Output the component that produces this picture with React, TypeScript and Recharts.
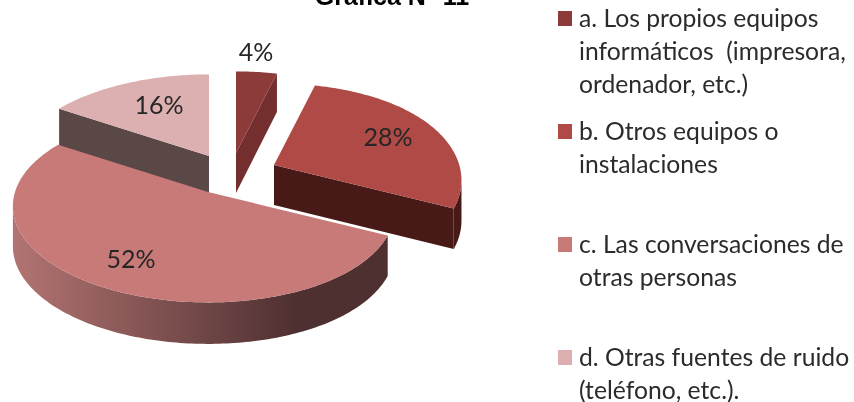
import React from "react";
import { PieChart, Pie, Legend } from "recharts";

const categories = ["a", "b", "c", "d"];
const values = [4, 28, 52, 16];
const legendLines = [
  ["a. Los propios equipos", "informáticos  (impresora,", "ordenador, etc.)"],
  ["b. Otros equipos o", "instalaciones"],
  ["c. Las conversaciones de", "otras personas"],
  ["d. Otras fuentes de ruido", "(teléfono, etc.)."],
];
const topColors = ["#8c3a3a", "#b04a47", "#c77a78", "#dcb0b0"];
const wallColors = ["#752e2e", "#471a17", "url(#wallC)", "#5a4846"];
const title = "Gráfica N° 11";

// d is painted first so that the big slice overlaps its wall; the legend keeps a, b, c, d
const drawOrder = [3, 0, 1, 2];
const rows = drawOrder.map((i) => ({ id: i, name: categories[i], value: values[i], color: topColors[i], wall: wallColors[i] }));
const total = values.reduce((s, v) => s + v, 0);
const firstAngle = 90 - (360 * (total - values[3])) / total;

const CX = 232;
const CY = 168;
const R = 193;
const RY = 96;
const K = 0.15;
const DEPTH = 40;
const SLICE_SHIFT = [
  [4, -15],
  [42, -3],
  [-24, 24],
  [-23, -12],
];
const LABEL_AT = [
  [20, -102],
  [114, -29],
  [-77, 66],
  [-50, -52],
];
const FONT = "Lato, Carlito, sans-serif";

const project = (deg: number, f = 1) => {
  const t = (deg * Math.PI) / 180;
  const x = Math.sin(t) * f;
  const y = -Math.cos(t) * f;
  const s = 1 + K * y;
  const squeeze = x > 0 ? 1 - 0.04 * x * x : 1;
  return [R * x * s * squeeze, RY * y * s, DEPTH + 1.5 * y] as const;
};
const pathOf = (pts: number[][]) => "M" + pts.map((p) => p[0].toFixed(2) + " " + p[1].toFixed(2)).join("L") + "Z";

const sliceShape = (props: any) => {
  const id: number = props.payload.id;
  const o = [props.cx + SLICE_SHIFT[id][0], props.cy + SLICE_SHIFT[id][1]];
  let s = 90 - props.startAngle;
  let e = 90 - props.endAngle;
  const turn = Math.floor(s / 360 + 1e-9) * 360;
  s -= turn;
  e -= turn;
  const at = (deg: number) => {
    const p = project(deg);
    return [o[0] + p[0], o[1] + p[1], p[2]];
  };
  const angles: number[] = [];
  for (let a = s; a < e; a += 1) angles.push(a);
  angles.push(e);
  const top = [o, ...angles.map(at)];
  const walls: React.ReactNode[] = [];
  const quad = (deg: number, k: string) => {
    const p = at(deg);
    walls.push(
      <path key={k} d={pathOf([o, [p[0], p[1]], [p[0], p[1] + p[2]], [o[0], o[1] + DEPTH]])} fill={props.payload.wall} />
    );
  };
  if (Math.sin((s * Math.PI) / 180) < -1e-6) quad(s, "start");
  if (Math.sin((e * Math.PI) / 180) > 1e-6) quad(e, "end");
  const lo = Math.max(s, 99);
  const hi = Math.min(e, 261);
  if (hi > lo) {
    const arc: number[] = [];
    for (let a = lo; a < hi; a += 1) arc.push(a);
    arc.push(hi);
    const upper = arc.map(at);
    const lower = upper.map((p) => [p[0], p[1] + p[2]]).reverse();
    walls.push(<path key="arc" d={pathOf([...upper, ...lower])} fill={props.payload.wall} />);
  }
  return (
    <g>
      {walls}
      <path d={pathOf(top)} fill={props.payload.color} />
    </g>
  );
};

const sliceLabel = (props: any) => {
  const id: number = props.payload.id;
  const x = props.cx + SLICE_SHIFT[id][0] + LABEL_AT[id][0];
  const y = props.cy + SLICE_SHIFT[id][1] + LABEL_AT[id][1];
  return (
    <text x={x} y={y} textAnchor="middle" dominantBaseline="central" fill="#262626" fontFamily={FONT} fontSize={25}>
      {Math.round((props.value / total) * 100)}%
    </text>
  );
};

const legendContent = () => (
  <div style={{ position: "relative", width: 296, height: 402 }}>
    {categories.map((c, i) => (
      <div key={c} style={{ position: "absolute", left: 0, top: i * 113 }}>
        <div style={{ position: "absolute", left: 0, top: 11, width: 14, height: 15, background: topColors[i] }} />
        {legendLines[i].map((line, j) => (
          <div
            key={j}
            style={{
              position: "absolute",
              left: 21,
              top: 2.4 + j * 32.7,
              whiteSpace: "pre",
              fontFamily: FONT,
              fontSize: 24.7,
              lineHeight: "32px",
              color: "#2b2b2b",
            }}
          >
            {line}
          </div>
        ))}
      </div>
    ))}
  </div>
);

export default function App() {
  return (
    <div
      style={{
        position: "absolute",
        left: 0,
        top: 0,
        width: 854,
        height: 402,
        overflow: "hidden",
        background: "#fff",
        filter: "blur(0.45px)",
      }}
    >
      <div
        style={{
          position: "absolute",
          left: 292,
          width: 200,
          top: -19,
          textAlign: "center",
          fontFamily: "Liberation Sans, Arial, sans-serif",
          fontWeight: 700,
          fontSize: 25,
          lineHeight: "30px",
          color: "#000",
        }}
      >
        {title}
      </div>
      <PieChart width={854} height={402} margin={{ top: 0, right: 0, bottom: 0, left: 0 }}>
        <defs>
          <linearGradient id="wallC" gradientUnits="userSpaceOnUse" x1={14} y1={0} x2={295} y2={0}>
            <stop offset="0" stopColor="#b27472" />
            <stop offset="1" stopColor="#4f3031" />
          </linearGradient>
        </defs>
        <Legend
          content={legendContent}
          wrapperStyle={{ position: "absolute", left: 558, top: 0, width: 296, height: 402, margin: 0 }}
        />
        <Pie
          data={rows}
          dataKey="value"
          nameKey="name"
          cx={CX}
          cy={CY}
          outerRadius={R}
          startAngle={firstAngle}
          endAngle={firstAngle - 360}
          paddingAngle={0}
          stroke="none"
          shape={sliceShape}
          label={sliceLabel}
          labelLine={false}
          isAnimationActive={false}
          rootTabIndex={-1}
        />
      </PieChart>
    </div>
  );
}
